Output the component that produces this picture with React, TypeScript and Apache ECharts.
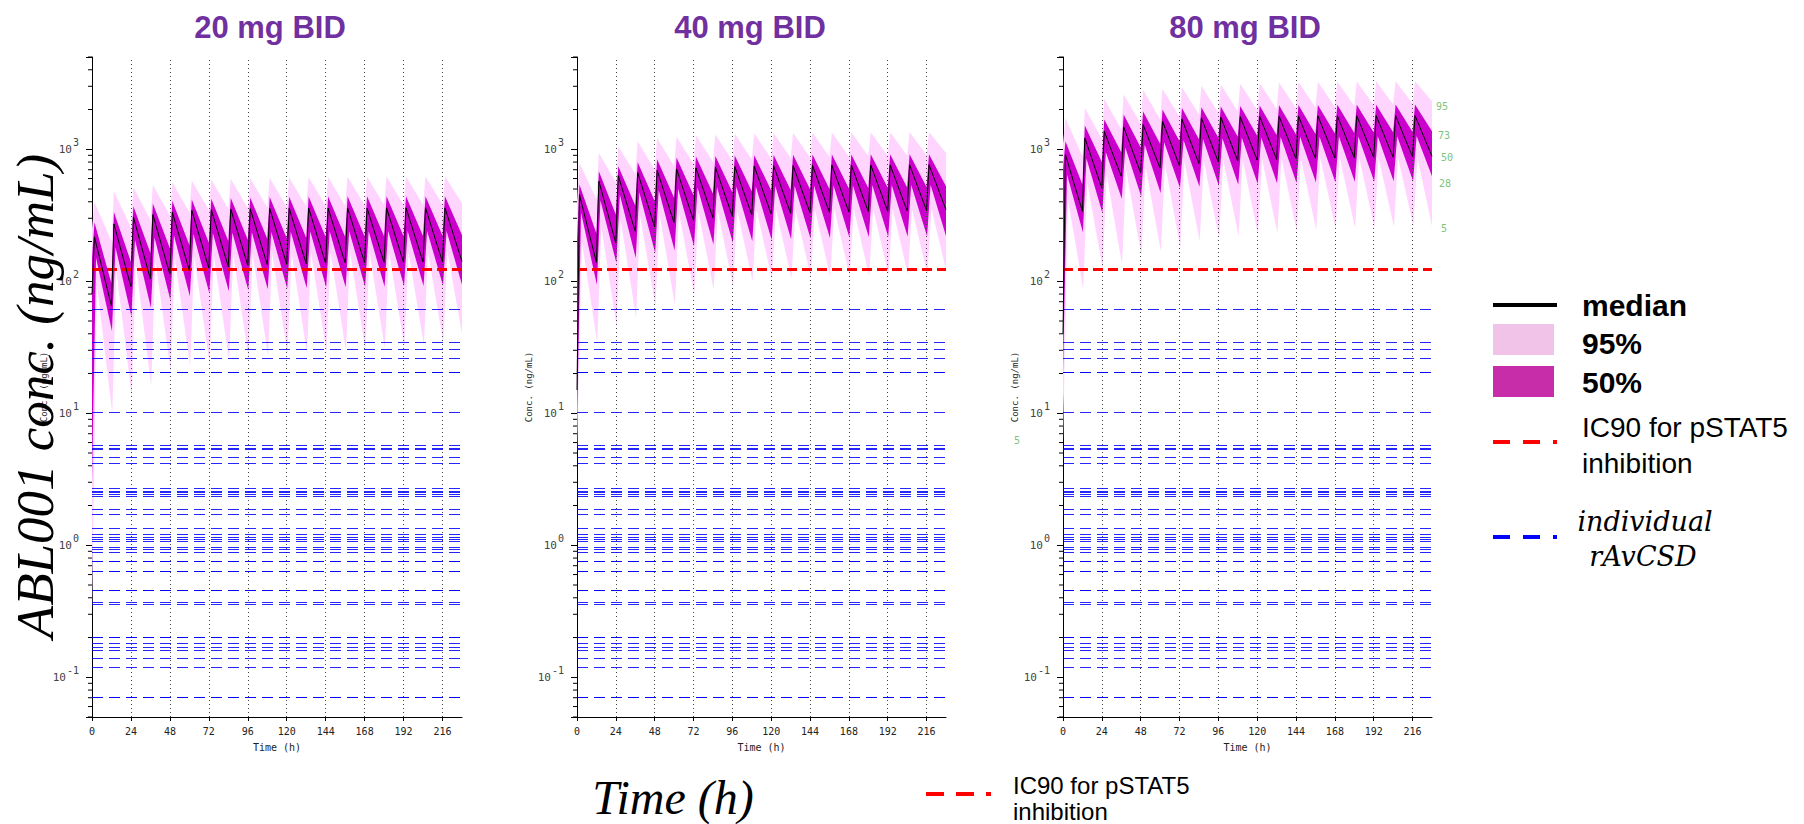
import React, { useEffect, useRef } from 'react';
import * as echarts from 'echarts';

// ---------- data ----------
const PANEL_TITLES = ['20 mg BID', '40 mg BID', '80 mg BID'];
const X_TICKS = [0, 24, 48, 72, 96, 120, 144, 168, 192, 216];
const GRID_TIMES = [24, 48, 72, 96, 120, 144, 168, 192, 216];
const X_MAX = 228;
const Y_MIN = 0.05;
const Y_MAX = 5000;
const DOSE_INTERVAL = 12;
const IC90 = 124;
const R_AV_CSD = [61.8, 34.5, 30.4, 26.3, 20.4, 20.6, 10.1, 5.69, 5.4, 5.38, 4.64, 4.18, 2.72, 2.55, 2.53, 2.45,
  2.34, 1.86, 1.73, 1.355, 1.21, 1.16, 1.12, 1.08, 0.966, 0.93, 0.885, 0.762, 0.758, 0.64, 0.636, 0.464, 0.456,
  0.373, 0.362, 0.202, 0.198, 0.181, 0.171, 0.162, 0.138, 0.118, 0.0658, 0.0655];
const PCT_LABELS = ['95', '73', '50', '28', '5'];

// starting values at t=0: [p2.5, p25, median, p75, p97.5]
const START_20 = [0.3, 3, 80, 150, 250];
const START_40 = [5, 8, 15, 200, 400];
const START_80 = [6, 20, 40, 700, 1100];

// 20 mg BID
const MED_PK_20 = [217, 272, 307, 320, 333, 344, 348, 352, 354, 356, 357, 358, 358, 359, 359, 360, 360, 360, 360];
const MED_TR_20 = [65, 91, 104, 113, 121, 126, 129, 132, 134, 135, 136, 137, 138, 138, 139, 139, 140, 140, 141];
const P75_PK_20 = [280, 335, 370, 389, 405, 416, 422, 428, 432, 435, 437, 438, 439, 440, 440, 441, 441, 441, 441];
const P75_TR_20 = [96, 140, 164, 178, 188, 196, 202, 206, 210, 212, 214, 216, 217, 218, 219, 219, 220, 221, 224];
const P25_PK_20 = [150, 180, 205, 215, 222, 228, 231, 233, 235, 236, 237, 238, 238, 239, 239, 240, 240, 240, 240];
const P25_TR_20 = [42, 54, 63, 72, 77, 81, 84, 86, 87, 88, 89, 90, 90, 91, 91, 92, 92, 93, 94];
const P97_PK_20 = [399, 481, 515, 537, 562, 580, 590, 598, 604, 608, 612, 615, 617, 619, 620, 621, 622, 623, 624];
const P97_TR_20 = [200, 255, 290, 315, 333, 345, 352, 358, 362, 366, 369, 372, 374, 376, 378, 379, 380, 381, 390];
const P03_PK_20 = [95, 120, 135, 145, 150, 155, 158, 160, 162, 163, 164, 165, 165, 166, 166, 167, 167, 167, 168];
const P03_TR_20 = [10, 13.5, 16, 20.8, 22.7, 23.3, 25, 26, 27, 28, 28.5, 29, 29.5, 30, 31, 32, 33, 34, 40];

// 40 mg BID
const MED_PK_40 = [454, 573, 630, 665, 693, 710, 722, 732, 740, 745, 749, 752, 755, 757, 759, 760, 761, 762, 763];
const MED_TR_40 = [139, 195, 239, 258, 278, 290, 303, 311, 318, 323, 327, 330, 333, 335, 337, 339, 341, 343, 349];
const P75_PK_40 = [540, 680, 743, 798, 840, 865, 880, 890, 897, 902, 906, 909, 911, 913, 914, 915, 916, 917, 918];
const P75_TR_40 = [230, 320, 375, 405, 430, 448, 462, 472, 480, 487, 492, 497, 501, 505, 508, 511, 514, 517, 525];
const P25_PK_40 = [330, 410, 450, 470, 490, 500, 510, 515, 520, 523, 526, 528, 530, 531, 532, 533, 534, 535, 536];
const P25_TR_40 = [94, 138, 150, 164, 171, 184, 190, 196, 201, 205, 208, 211, 213, 215, 216, 217, 218, 219, 220];
const P97_PK_40 = [788, 938, 1054, 1149, 1211, 1246, 1275, 1295, 1310, 1320, 1328, 1334, 1338, 1341, 1344, 1346, 1348, 1350, 1352];
const P97_TR_40 = [420, 560, 650, 700, 745, 775, 800, 820, 835, 848, 858, 867, 875, 882, 888, 893, 898, 902, 938];
const P03_PK_40 = [200, 260, 290, 310, 320, 330, 335, 340, 343, 346, 348, 350, 351, 352, 353, 354, 355, 355, 356];
const P03_TR_40 = [34, 45.6, 52.7, 64.7, 66, 79, 86, 91, 100, 103, 105, 107, 108, 109, 110, 111, 112, 113, 122];

// 80 mg BID
const MED_PK_80 = [911, 1219, 1368, 1476, 1538, 1630, 1690, 1727, 1750, 1765, 1775, 1782, 1787, 1790, 1793, 1795, 1797, 1799, 1800];
const MED_TR_80 = [339, 509, 624, 662, 720, 748, 780, 800, 815, 828, 838, 846, 853, 858, 863, 867, 871, 875, 885];
const P75_PK_80 = [1150, 1511, 1678, 1832, 1930, 2000, 2050, 2085, 2110, 2128, 2142, 2152, 2160, 2166, 2170, 2174, 2177, 2179, 2180];
const P75_TR_80 = [540, 800, 950, 1030, 1100, 1150, 1190, 1220, 1245, 1265, 1280, 1295, 1307, 1318, 1328, 1337, 1345, 1352, 1370];
const P25_PK_80 = [640, 850, 950, 1030, 1080, 1130, 1170, 1195, 1210, 1222, 1230, 1237, 1242, 1246, 1249, 1252, 1254, 1256, 1258];
const P25_TR_80 = [235, 330, 421, 438, 467, 509, 520, 530, 538, 545, 550, 555, 559, 563, 567, 570, 573, 576, 624];
const P97_PK_80 = [1727, 2057, 2404, 2596, 2832, 2860, 2950, 3030, 3090, 3140, 3180, 3210, 3235, 3250, 3260, 3268, 3272, 3275, 3278];
const P97_TR_80 = [880, 1200, 1420, 1560, 1680, 1760, 1830, 1890, 1940, 1980, 2015, 2045, 2070, 2100, 2130, 2160, 2190, 2220, 2312];
const P03_PK_80 = [420, 560, 640, 700, 740, 780, 805, 820, 830, 838, 845, 850, 854, 857, 860, 862, 864, 865, 866];
const P03_TR_80 = [87.5, 126, 134, 156, 169, 179, 201, 209, 219, 225, 232, 238, 243, 248, 252, 255, 258, 261, 261];

// ---------- helpers ----------
type Pt = [number, number];

function upperPath(start: number, pk: number[], tr: number[], pkOff: number): Pt[] {
  const pts: Pt[] = [[0, start]];
  for (let k = 0; k < pk.length; k++) {
    pts.push([k * DOSE_INTERVAL + pkOff, pk[k]]);
    pts.push([(k + 1) * DOSE_INTERVAL, tr[k]]);
  }
  return pts;
}

function lowerPath(start: number, pk: number[], tr: number[], pkOff: number, trOff: number): Pt[] {
  const pts: Pt[] = [[0, start]];
  for (let k = 0; k < pk.length; k++) {
    pts.push([k * DOSE_INTERVAL + pkOff, pk[k]]);
    pts.push([Math.min((k + 1) * DOSE_INTERVAL + trOff, X_MAX), tr[k]]);
  }
  return pts;
}

const PANELS = [
  { start: START_20, medPk: MED_PK_20, medTr: MED_TR_20, p75Pk: P75_PK_20, p75Tr: P75_TR_20, p25Pk: P25_PK_20, p25Tr: P25_TR_20, p97Pk: P97_PK_20, p97Tr: P97_TR_20, p03Pk: P03_PK_20, p03Tr: P03_TR_20 },
  { start: START_40, medPk: MED_PK_40, medTr: MED_TR_40, p75Pk: P75_PK_40, p75Tr: P75_TR_40, p25Pk: P25_PK_40, p25Tr: P25_TR_40, p97Pk: P97_PK_40, p97Tr: P97_TR_40, p03Pk: P03_PK_40, p03Tr: P03_TR_40 },
  { start: START_80, medPk: MED_PK_80, medTr: MED_TR_80, p75Pk: P75_PK_80, p75Tr: P75_TR_80, p25Pk: P25_PK_80, p25Tr: P25_TR_80, p97Pk: P97_PK_80, p97Tr: P97_TR_80, p03Pk: P03_PK_80, p03Tr: P03_TR_80 },
];

const GRIDS = [
  { left: 92, top: 57, width: 370, height: 660 },
  { left: 577, top: 57, width: 369, height: 660 },
  { left: 1063, top: 57, width: 369, height: 660 },
];

const MONO = '"DejaVu Sans Mono", monospace';
const SANS = '"Liberation Sans", Arial, sans-serif';
const SERIF = '"Liberation Serif", "Times New Roman", serif';

function minorTickValues(): number[] {
  const out: number[] = [];
  for (let e = -2; e <= 3; e++) {
    for (let m = 2; m <= 9; m++) {
      const v = m * Math.pow(10, e);
      if (v >= Y_MIN * 0.999 && v <= Y_MAX * 1.001) out.push(v);
    }
  }
  return out;
}

function buildOption() {
  const xAxis: any[] = [];
  const yAxis: any[] = [];
  const series: any[] = [];
  const minors = minorTickValues();

  PANELS.forEach((p, i) => {
    xAxis.push({
      type: 'value', gridIndex: i, min: 0, max: X_MAX,
      axisLine: { show: true, onZero: false, lineStyle: { color: '#000', width: 1 } },
      axisTick: { show: true, customValues: X_TICKS, length: 4, lineStyle: { color: '#000' } },
      axisLabel: { customValues: X_TICKS, fontSize: 10, fontFamily: MONO, color: '#222', margin: 9 },
      splitLine: { show: false },
      name: 'Time (h)', nameLocation: 'middle', nameGap: 25,
      nameTextStyle: { fontSize: 10, fontFamily: MONO, color: '#222' },
    });
    yAxis.push({
      type: 'log', logBase: 10, gridIndex: i, min: Y_MIN, max: Y_MAX,
      axisLine: { show: true, onZero: false, lineStyle: { color: '#000', width: 1 } },
      axisTick: { show: true, length: 6, lineStyle: { color: '#000' } },
      axisLabel: {
        margin: 13,
        formatter: (v: number) => {
          const e = Math.log10(v);
          const r = Math.round(e);
          if (Math.abs(e - r) > 1e-6) return '';
          return `{b|10}{e|${r}}`;
        },
        rich: {
          b: { fontSize: 11, fontFamily: MONO, color: '#444', lineHeight: 12 },
          e: { fontSize: 10, fontFamily: MONO, color: '#444', lineHeight: 10, padding: [0, 0, 14, 1] },
        },
      },
      splitLine: { show: false },
      name: 'Conc. (ng/mL)', nameLocation: 'middle', nameGap: 37,
      nameTextStyle: { fontSize: 9, fontFamily: MONO, color: '#222' },
    });

    const s = p.start;
    const up97 = upperPath(s[4], p.p97Pk, p.p97Tr, 1.5);
    const lo03 = lowerPath(s[0], p.p03Pk, p.p03Tr, 3, 0.5);
    const up75 = upperPath(s[3], p.p75Pk, p.p75Tr, 1.5);
    const lo25 = lowerPath(s[1], p.p25Pk, p.p25Tr, 2.5, 0.3);
    const med = upperPath(s[2], p.medPk, p.medTr, 1.5);

    // dotted vertical grid lines
    series.push({
      type: 'line', xAxisIndex: i, yAxisIndex: i, data: [], z: 1, silent: true,
      markLine: {
        silent: true, symbol: ['none', 'none'], label: { show: false },
        lineStyle: { color: '#444', type: [1, 3], width: 1 },
        data: GRID_TIMES.map((t) => ({ xAxis: t })),
      },
    });

    const band = (upper: Pt[], lower: Pt[], color: string, z: number) => ({
      type: 'custom', xAxisIndex: i, yAxisIndex: i, z, silent: true, clip: true,
      data: [[0, 1]],
      renderItem: (_params: any, api: any) => {
        const poly = upper.concat(lower.slice().reverse());
        const points = poly.map((pt) => api.coord(pt));
        return { type: 'polygon', shape: { points }, style: { fill: color } };
      },
    });
    series.push(band(up97, lo03, '#FFD4FF', 2));
    series.push(band(up75, lo25, '#CC00CC', 3));

    // reference lines
    series.push({
      type: 'line', xAxisIndex: i, yAxisIndex: i, data: [], z: 4, silent: true,
      markLine: {
        silent: true, symbol: ['none', 'none'], label: { show: false },
        data: [
          ...R_AV_CSD.map((v) => ({ yAxis: v, lineStyle: { color: '#0000FF', opacity: 0.85, type: [11, 6], width: 1.2 } })),
          { yAxis: IC90, lineStyle: { color: '#FF0000', opacity: 1, type: [10, 5], width: 3 } },
        ],
      },
    });

    series.push({
      type: 'line', xAxisIndex: i, yAxisIndex: i, z: 5, silent: true,
      showSymbol: false, symbol: 'none',
      lineStyle: { color: '#000', width: 1 },
      data: med,
    });

    // log minor ticks
    series.push({
      type: 'custom', xAxisIndex: i, yAxisIndex: i, z: 6, silent: true, clip: false,
      data: minors.map((v) => [0, v]),
      renderItem: (_params: any, api: any) => {
        const c = api.coord([0, api.value(1)]);
        return { type: 'line', shape: { x1: c[0] - 4, y1: c[1], x2: c[0], y2: c[1] }, style: { stroke: '#000', lineWidth: 1 } };
      },
    });
  });

  const titleX = [270, 750, 1245];
  const graphic: any[] = [];
  PANEL_TITLES.forEach((t, i) => {
    graphic.push({
      type: 'text', x: titleX[i], y: 27, z: 100,
      style: { text: t, font: `bold 31px ${SANS}`, fill: '#7030A0', align: 'center', verticalAlign: 'middle' },
    });
  });

  // big axis titles
  graphic.push({
    type: 'text', x: 35, y: 396, rotation: Math.PI / 2, z: 100,
    style: { text: 'ABL001 conc. (ng/mL)', font: `italic 53px ${SERIF}`, fill: '#000', align: 'center', verticalAlign: 'middle' },
  });
  graphic.push({
    type: 'text', x: 673, y: 797, z: 100,
    style: { text: 'Time (h)', font: `italic 48px ${SERIF}`, fill: '#000', align: 'center', verticalAlign: 'middle' },
  });

  // percentile labels (80 mg panel)
  const pctPos = [[1442, 106], [1444, 135], [1447, 157], [1445, 183], [1444, 228]];
  PCT_LABELS.forEach((l, k) => {
    graphic.push({
      type: 'text', x: pctPos[k][0], y: pctPos[k][1], z: 100,
      style: { text: l, font: `10px ${MONO}`, fill: '#7CC47C', align: 'center', verticalAlign: 'middle' },
    });
  });
  graphic.push({
    type: 'text', x: 1017, y: 440, z: 100,
    style: { text: PCT_LABELS[4], font: `10px ${MONO}`, fill: '#7CC47C', align: 'center', verticalAlign: 'middle' },
  });

  // right legend
  const LX = 1493;
  const TX = 1582;
  graphic.push({ type: 'line', z: 100, shape: { x1: LX, y1: 305, x2: LX + 64, y2: 305 }, style: { stroke: '#000', lineWidth: 4 } });
  graphic.push({ type: 'text', x: TX, y: 305, z: 100, style: { text: 'median', font: `bold 30px ${SANS}`, fill: '#000', verticalAlign: 'middle' } });
  graphic.push({ type: 'rect', z: 100, shape: { x: LX, y: 324, width: 61, height: 31 }, style: { fill: '#F2C3E8' } });
  graphic.push({ type: 'text', x: TX, y: 343, z: 100, style: { text: '95%', font: `bold 30px ${SANS}`, fill: '#000', verticalAlign: 'middle' } });
  graphic.push({ type: 'rect', z: 100, shape: { x: LX, y: 366, width: 61, height: 31 }, style: { fill: '#C72DA9' } });
  graphic.push({ type: 'text', x: TX, y: 382, z: 100, style: { text: '50%', font: `bold 30px ${SANS}`, fill: '#000', verticalAlign: 'middle' } });
  graphic.push({ type: 'line', z: 100, shape: { x1: LX, y1: 442, x2: LX + 64, y2: 442 }, style: { stroke: '#FF0000', lineWidth: 4, lineDash: [17, 13] } });
  graphic.push({ type: 'text', x: TX, y: 427, z: 100, style: { text: 'IC90 for pSTAT5', font: `28px ${SANS}`, fill: '#000', verticalAlign: 'middle' } });
  graphic.push({ type: 'text', x: TX, y: 463, z: 100, style: { text: 'inhibition', font: `28px ${SANS}`, fill: '#000', verticalAlign: 'middle' } });
  graphic.push({ type: 'line', z: 100, shape: { x1: LX, y1: 537, x2: LX + 64, y2: 537 }, style: { stroke: '#0000FF', lineWidth: 4, lineDash: [17, 13] } });
  graphic.push({ type: 'text', x: 1645, y: 521, z: 100, style: { text: 'individual', font: `italic 27px "DejaVu Serif", serif`, fill: '#000', align: 'center', verticalAlign: 'middle' } });
  graphic.push({ type: 'text', x: 1643, y: 556, z: 100, style: { text: 'rAvCSD', font: `italic 27px "DejaVu Serif", serif`, fill: '#000', align: 'center', verticalAlign: 'middle' } });

  // bottom legend
  graphic.push({ type: 'line', z: 100, shape: { x1: 926, y1: 794, x2: 991, y2: 794 }, style: { stroke: '#FF0000', lineWidth: 4, lineDash: [18, 12] } });
  graphic.push({ type: 'text', x: 1013, y: 785, z: 100, style: { text: 'IC90 for pSTAT5', font: `24px ${SANS}`, fill: '#000', verticalAlign: 'middle' } });
  graphic.push({ type: 'text', x: 1013, y: 811, z: 100, style: { text: 'inhibition', font: `24px ${SANS}`, fill: '#000', verticalAlign: 'middle' } });

  return {
    animation: false,
    backgroundColor: '#ffffff',
    grid: GRIDS.map((g) => ({ ...g, containLabel: false })),
    xAxis,
    yAxis,
    series,
    graphic,
  };
}

export default function App() {
  const ref = useRef<HTMLDivElement>(null);
  useEffect(() => {
    if (!ref.current) return;
    const chart = echarts.init(ref.current, undefined, { renderer: 'svg' });
    chart.setOption(buildOption() as any);
    return () => chart.dispose();
  }, []);
  return (
    <div
      ref={ref}
      style={{ position: 'fixed', left: 0, top: 0, width: 1804, height: 824, background: '#fff' }}
    />
  );
}
